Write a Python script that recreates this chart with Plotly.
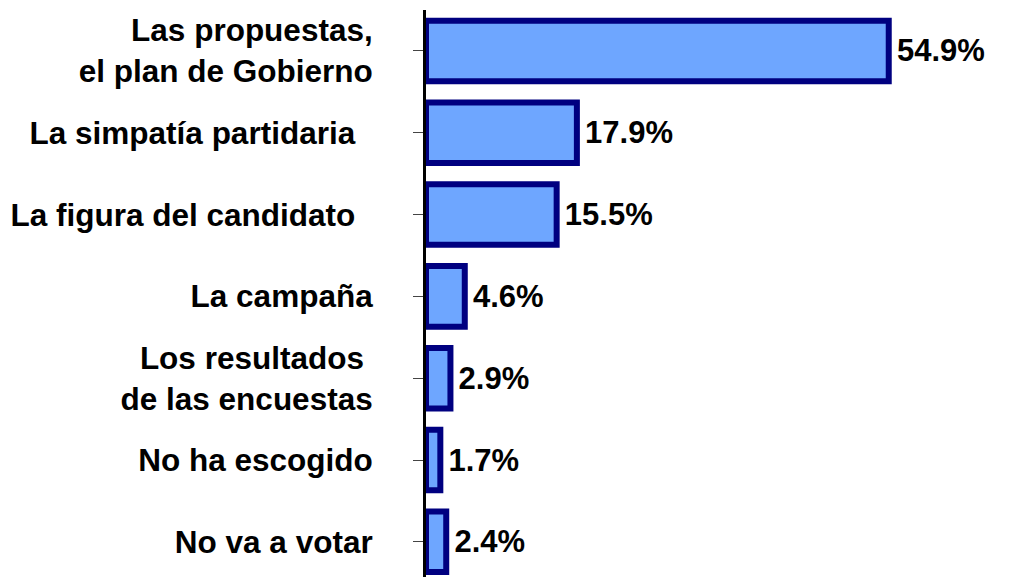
import plotly.graph_objects as go

categories = [
    "Las propuestas,<br>el plan de Gobierno",
    "La simpatía partidaria\u00a0\u00a0",
    "La figura del candidato\u00a0\u00a0",
    "La campaña",
    "Los resultados\u00a0<br>de las encuestas",
    "No ha escogido",
    "No va a votar",
]
values = [54.9, 17.9, 15.5, 4.6, 2.9, 1.7, 2.4]
value_labels = ["54.9%", "17.9%", "15.5%", "4.6%", "2.9%", "1.7%", "2.4%"]

positions = list(range(len(categories)))
FONT = "Liberation Sans, Arial, sans-serif"

fig = go.Figure(
    go.Bar(
        x=values,
        y=positions,
        orientation="h",
        marker=dict(color="#6EA6FF", line=dict(color="#000080", width=6)),
        text=value_labels,
        textposition="outside",
        texttemplate="<b>\u200a\u200a%{text}</b>",
        cliponaxis=False,
        textfont=dict(family=FONT, size=31, color="black"),
        width=0.74,
    )
)

# page body has an 8px default margin, so the figure is sized to fit the window
fig.update_layout(
    width=1002,
    height=569,
    margin=dict(l=418, r=10, t=2, b=0, autoexpand=False),
    plot_bgcolor="white",
    paper_bgcolor="white",
    showlegend=False,
    font=dict(family=FONT, size=31, color="black"),
)
fig.update_xaxes(
    range=[0, 68.1],
    showgrid=False,
    zeroline=False,
    showticklabels=False,
    showline=False,
    ticks="",
    automargin=False,
)
fig.update_yaxes(
    range=[6.43, -0.5],
    tickvals=positions,
    ticktext=["<b>%s</b>" % c for c in categories],
    showgrid=False,
    zeroline=False,
    showline=True,
    linecolor="black",
    linewidth=3,
    ticks="outside",
    ticklen=10,
    tickcolor="#444",
    tickwidth=1,
    ticklabelstandoff=34,
    automargin=False,
    tickfont=dict(family=FONT, size=31.5, color="black"),
)

fig.write_html("out.html")
